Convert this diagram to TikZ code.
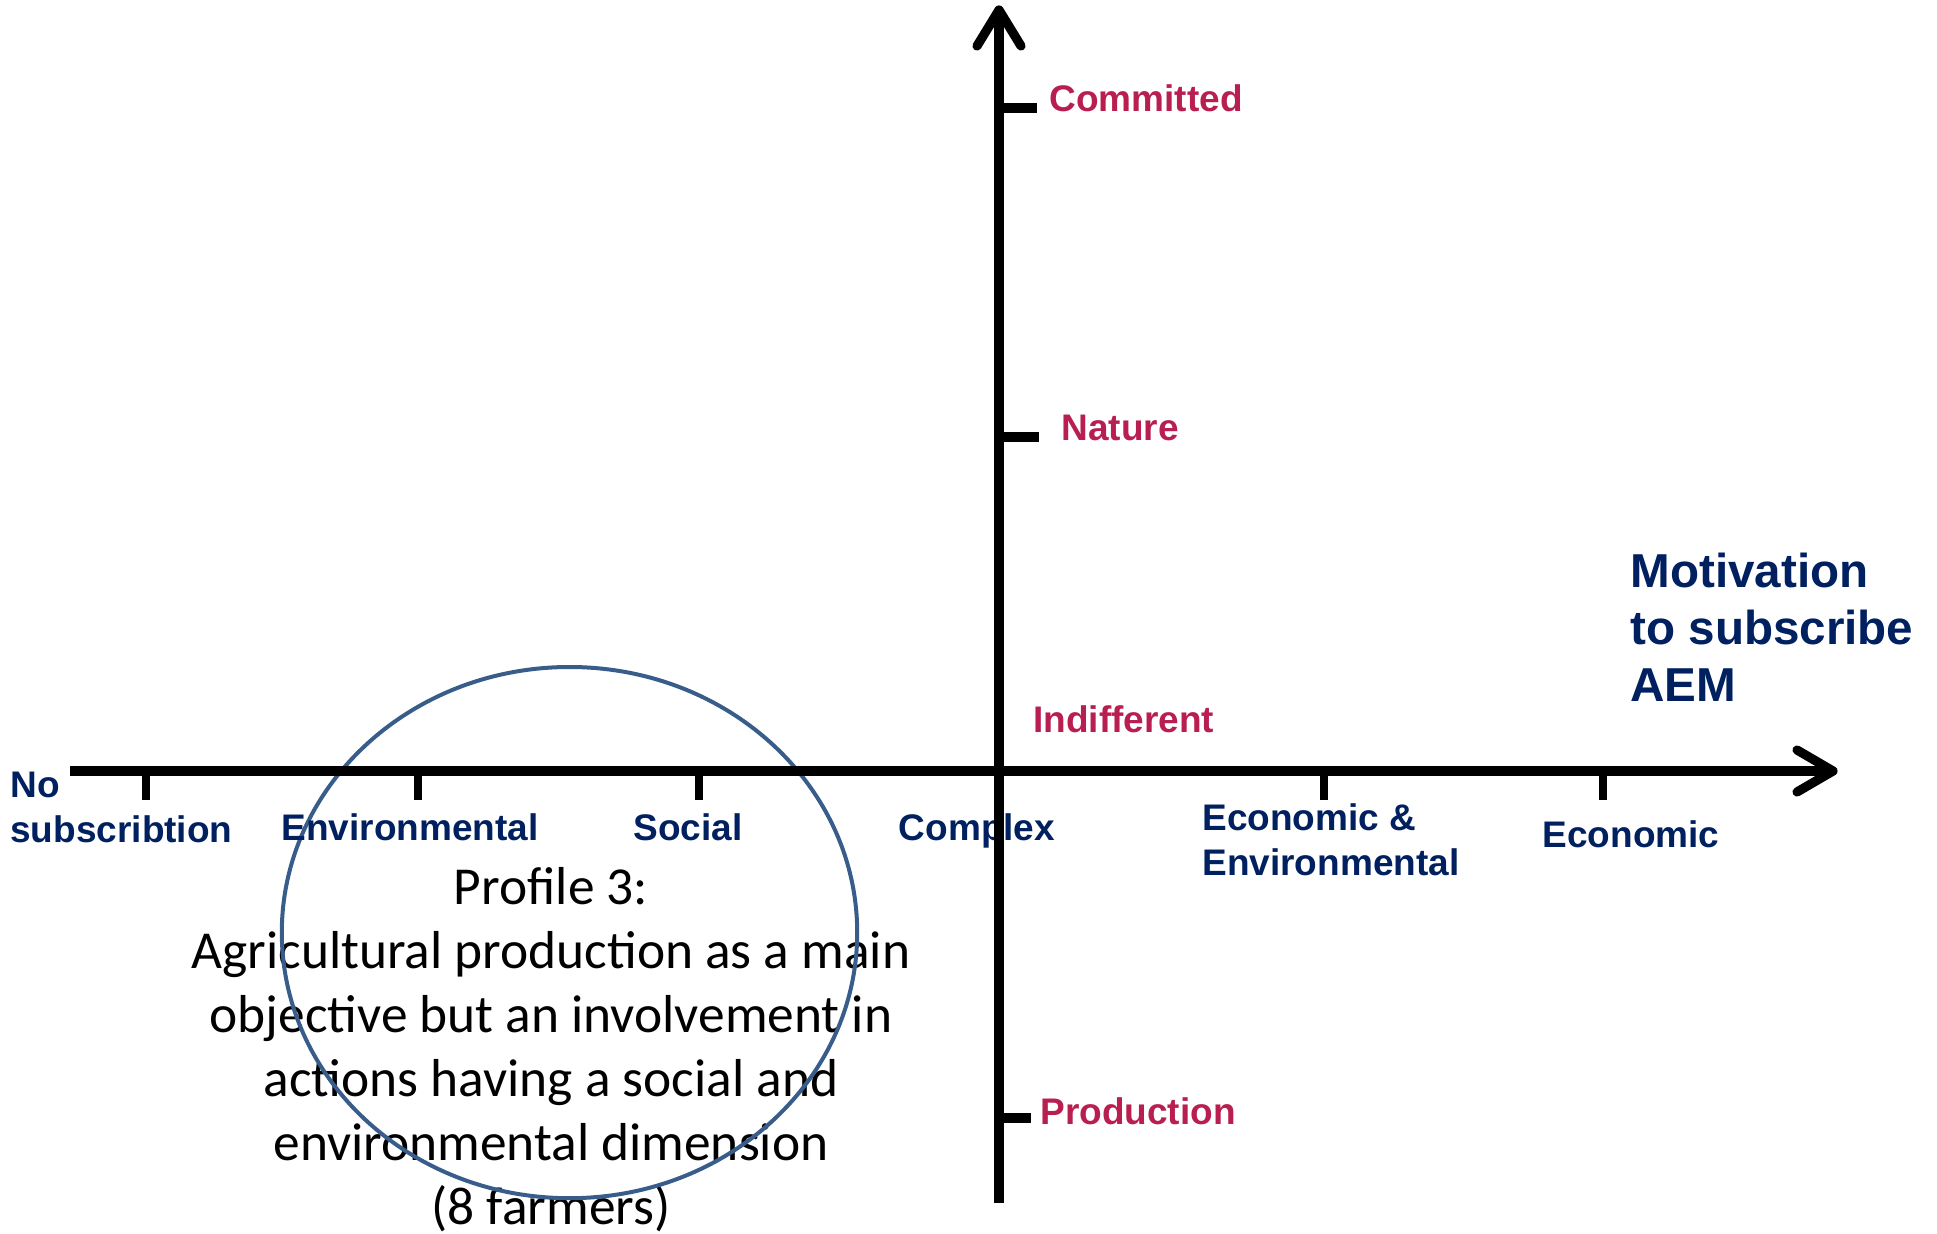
\documentclass[tikz,border=0pt]{standalone}
\usepackage{fontspec}
\setmainfont{Liberation Sans}
\newfontfamily\calib{Carlito}
\usetikzlibrary{calc,shapes.geometric}
\definecolor{axred}{RGB}{185,30,80}
\definecolor{axblue}{RGB}{0,32,96}
\definecolor{ringblue}{RGB}{56,93,138}
\begin{document}
\begin{tikzpicture}[x=0.5pt,y=-0.5pt,
  axis/.style={line width=4.6pt,black},
  tickv/.style={line width=5pt,black},
  tickh/.style={line width=3.8pt,black},
  head/.style={line width=4.6pt,black,line cap=round,line join=round},
  redlab/.style={text=axred,font=\fontsize{18.5}{22}\selectfont\bfseries,inner sep=0pt,anchor=base west},
  bluelab/.style={text=axblue,font=\fontsize{18.5}{22.5}\selectfont\bfseries,inner sep=0pt},
  biglab/.style={text=axblue,font=\fontsize{23.8}{28.5}\selectfont\bfseries,inner sep=0pt,align=left,anchor=base west},
  profile/.style={font=\calib\fontsize{26.7}{32}\selectfont,align=center,inner sep=0pt,anchor=base},
  ring/.style={draw=ringblue,line width=2pt,ellipse,inner sep=0pt,minimum width=287.7pt,minimum height=265.6pt}
]
\useasboundingbox (0,0) rectangle (1937,1234);
\clip (0,0) rectangle (1937,1234);

% profile text and ring (base anchor = baseline of last line)
\node[profile] (prof) at (551,1224) {Profile 3:\\Agricultural production as a main\\objective but an involvement in\\actions having a social and\\environmental dimension\\(8 farmers)};
\node[ring] (ring) at (569.5,932.6) {};

% horizontal axis labels
\node[bluelab,align=left,anchor=base west] (nosub) at (10,842) {No\\subscribtion};
\node[bluelab,anchor=base] (env) at (410,840) {Environmental};
\node[bluelab,anchor=base] (soc) at (688,840) {Social};
\node[bluelab,anchor=base] (cplx) at (977,840) {Complex};
\node[bluelab,align=left,anchor=base west] (ecoenv) at (1202,875) {Economic \&\\Environmental};
\node[bluelab,anchor=base] (eco) at (1631,847) {Economic};
\node[biglab] (motiv) at (1630,702) {Motivation\\to subscribe\\AEM};

% vertical axis labels
\node[redlab] (comm) at (1049,112) {Committed};
\node[redlab] (nat) at (1061,441) {Nature};
\node[redlab] (indif) at (1033,733) {Indifferent};
\node[redlab] (prod) at (1040,1124) {Production};

% axes
\coordinate (xl) at (70,771);
\coordinate (xr) at (1833,771);
\coordinate (yb) at (999,1203);
\coordinate (yt) at (999,10);
\draw[axis] (xl) -- (xr);
\draw[axis] (yb) -- (yt);
\draw[head] ($(yt)+(-22,36)$) -- (yt) -- ($(yt)+(22,36)$);
\draw[head] ($(xr)+(-36,-21)$) -- (xr) -- ($(xr)+(-36,21)$);

% ticks on horizontal axis
\foreach \tx in {146,418,699,1324,1603}
  \draw[tickh] (\tx,771) -- (\tx,800);
% ticks on vertical axis
\foreach \ty/\tl in {108/1037,437/1039,1118/1031}
  \draw[tickv] (999,\ty) -- (\tl,\ty);
\end{tikzpicture}
\end{document}
